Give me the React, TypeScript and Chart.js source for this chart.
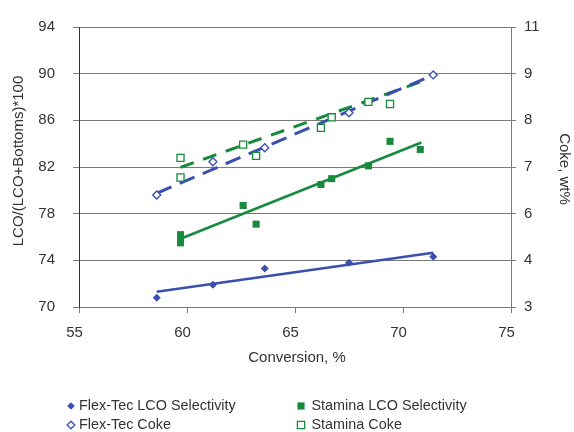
import React, { useEffect, useRef } from 'react';
import { Chart, registerables } from 'chart.js';

Chart.register(...registerables);

// ---------- data ----------
const flexConversion = [58.6, 61.2, 63.6, 67.5, 71.4];
const flexLcoSelectivity = [70.8, 71.9, 73.3, 73.8, 74.3];
const flexCoke = [6.2, 7.15, 7.55, 8.55, 9.63];

const staminaConversion = [59.7, 59.7, 59.7, 62.6, 63.2, 66.2, 66.7, 68.4, 69.4, 70.8];
const staminaLcoSelectivity = [76.2, 75.8, 75.5, 78.7, 77.1, 80.5, 81.0, 82.1, 84.2, 83.5];
const staminaCokeConversion = [59.7, 59.7, 62.6, 63.2, 66.2, 66.7, 68.4, 69.4];
const staminaCoke = [7.26, 6.7, 7.64, 7.32, 8.12, 8.42, 8.86, 8.8];

// trendline end points
const flexLcoTrendX = [58.6, 71.4];
const flexLcoTrendY = [71.3, 74.65];
const staminaLcoTrendX = [59.7, 70.85];
const staminaLcoTrendY = [75.85, 84.1];
const flexCokeTrendX = [58.6, 71.4];
const flexCokeTrendY = [6.25, 9.63];
const staminaCokeTrendX = [59.7, 70.9];
const staminaCokeTrendY = [6.99, 9.45];

const rightTickLabels = ['3', '4', '6', '7', '8', '9', '11'];

const seriesLabels = [
  'Flex-Tec LCO Selectivity',
  'Stamina LCO Selectivity',
  'Flex-Tec Coke',
  'Stamina Coke',
];

const xTitle = 'Conversion, %';
const yTitle = 'LCO/(LCO+Bottoms)*100';
const y2Title = 'Coke, wt%';

// ---------- styles ----------
const BLUE = '#3B4FB0';
const GREEN = '#178A3E';
const TEXT = '#333333';
const GRID = '#7a7a7a';
const FONT = "'Liberation Sans', Arial, sans-serif";

const pts = (xs: number[], ys: number[]) => xs.map((x, i) => ({ x, y: ys[i] }));

function drawMarker(ctx: CanvasRenderingContext2D, kind: string, x: number, y: number, color: string) {
  ctx.save();
  ctx.beginPath();
  if (kind === 'diamond' || kind === 'openDiamond') {
    const r = 3.8;
    ctx.moveTo(x - r, y);
    ctx.lineTo(x, y - r);
    ctx.lineTo(x + r, y);
    ctx.lineTo(x, y + r);
    ctx.closePath();
  } else {
    const h = 3.6;
    ctx.rect(x - h, y - h, 2 * h, 2 * h);
  }
  if (kind.startsWith('open')) {
    ctx.fillStyle = '#ffffff';
    ctx.fill();
    ctx.strokeStyle = color;
    ctx.lineWidth = 1.3;
    ctx.stroke();
  } else {
    ctx.fillStyle = color;
    ctx.fill();
  }
  ctx.restore();
}

const legendPlugin = {
  id: 'customLegend',
  afterDraw(chart: any) {
    const ctx: CanvasRenderingContext2D = chart.ctx;
    const colX = [71, 301];
    const rowY = [406, 425];
    ctx.save();
    ctx.font = `14.4px ${FONT}`;
    ctx.fillStyle = TEXT;
    ctx.textBaseline = 'middle';
    ctx.textAlign = 'left';
    chart.data.datasets.forEach((ds: any, i: number) => {
      if (ds.legendMarker === undefined) return;
      const cx = colX[i % 2];
      const cy = rowY[Math.floor(i / 2)];
      drawMarker(ctx, ds.legendMarker, cx, cy, ds.borderColor);
      ctx.fillStyle = TEXT;
      ctx.fillText(ds.label, cx + (i % 2 === 0 ? 8 : 10.5), cy + 0.5);
    });
    ctx.restore();
  },
};

const titlePlugin = {
  id: 'axisTitles',
  afterDraw(chart: any) {
    const ctx: CanvasRenderingContext2D = chart.ctx;
    const area = chart.chartArea;
    const midY = (area.top + area.bottom) / 2;
    ctx.save();
    ctx.font = `15px ${FONT}`;
    ctx.fillStyle = TEXT;
    ctx.textAlign = 'center';
    ctx.textBaseline = 'middle';
    ctx.fillText(xTitle, 297, 358);

    ctx.save();
    ctx.translate(18.5, midY - 6);
    ctx.rotate(-Math.PI / 2);
    ctx.fillText(yTitle, 0, 0);
    ctx.restore();

    ctx.save();
    ctx.translate(564, midY + 2);
    ctx.rotate(Math.PI / 2);
    ctx.fillText(y2Title, 0, 0);
    ctx.restore();
    ctx.restore();
  },
};

export default function App() {
  const canvasRef = useRef<HTMLCanvasElement | null>(null);

  useEffect(() => {
    if (!canvasRef.current) return;
    const chart = new Chart(canvasRef.current, {
      type: 'scatter',
      data: {
        datasets: [
          {
            label: seriesLabels[0],
            data: pts(flexConversion, flexLcoSelectivity),
            yAxisID: 'y',
            pointStyle: 'rectRot',
            pointRadius: 4,
            backgroundColor: BLUE,
            borderColor: BLUE,
            borderWidth: 0,
            showLine: false,
            legendMarker: 'diamond',
          } as any,
          {
            label: seriesLabels[1],
            data: pts(staminaConversion, staminaLcoSelectivity),
            yAxisID: 'y',
            pointStyle: 'rect',
            pointRadius: 5,
            backgroundColor: GREEN,
            borderColor: GREEN,
            borderWidth: 0,
            showLine: false,
            legendMarker: 'square',
          } as any,
          {
            label: seriesLabels[2],
            data: pts(flexConversion, flexCoke),
            yAxisID: 'y2',
            pointStyle: 'rectRot',
            pointRadius: 4,
            backgroundColor: '#ffffff',
            borderColor: BLUE,
            borderWidth: 1.3,
            showLine: false,
            legendMarker: 'openDiamond',
          } as any,
          {
            label: seriesLabels[3],
            data: pts(staminaCokeConversion, staminaCoke),
            yAxisID: 'y2',
            pointStyle: 'rect',
            pointRadius: 5,
            backgroundColor: '#ffffff',
            borderColor: GREEN,
            borderWidth: 1.3,
            showLine: false,
            legendMarker: 'openSquare',
          } as any,
          {
            label: 'flexLcoTrend',
            data: pts(flexLcoTrendX, flexLcoTrendY),
            yAxisID: 'y',
            showLine: true,
            pointRadius: 0,
            borderColor: BLUE,
            borderWidth: 2.5,
          } as any,
          {
            label: 'staminaLcoTrend',
            data: pts(staminaLcoTrendX, staminaLcoTrendY),
            yAxisID: 'y',
            showLine: true,
            pointRadius: 0,
            borderColor: GREEN,
            borderWidth: 2.5,
          } as any,
          {
            label: 'flexCokeTrend',
            data: pts(flexCokeTrendX, flexCokeTrendY),
            yAxisID: 'y2',
            showLine: true,
            pointRadius: 0,
            borderColor: BLUE,
            borderWidth: 3,
            borderDash: [16, 9],
          } as any,
          {
            label: 'staminaCokeTrend',
            data: pts(staminaCokeTrendX, staminaCokeTrendY),
            yAxisID: 'y2',
            showLine: true,
            pointRadius: 0,
            borderColor: GREEN,
            borderWidth: 3,
            borderDash: [14, 10],
          } as any,
        ],
      },
      options: {
        responsive: false,
        animation: false,
        layout: { padding: { top: 17, left: 0, right: 0, bottom: 0 } },
        plugins: {
          legend: { display: false },
          tooltip: { enabled: false },
        },
        scales: {
          x: {
            type: 'linear',
            min: 55,
            max: 75,
            afterFit: (s: any) => { s.height = 125; },
            ticks: {
              stepSize: 5,
              color: TEXT,
              font: { family: FONT, size: 15 },
              padding: 11,
              labelOffset: -4.5,
            },
            grid: { drawOnChartArea: false, drawTicks: true, tickLength: 6, color: GRID, lineWidth: 1 },
            border: { color: GRID, width: 1 },
          },
          y: {
            type: 'linear',
            position: 'left',
            min: 70,
            max: 94,
            afterFit: (s: any) => { s.width = 79; },
            ticks: {
              stepSize: 4,
              color: TEXT,
              font: { family: FONT, size: 15 },
              padding: 18,
            },
            grid: { color: GRID, lineWidth: 1, tickLength: 6 },
            border: { color: '#333333', width: 1 },
          },
          y2: {
            type: 'linear',
            position: 'right',
            min: 3,
            max: 11,
            afterFit: (s: any) => { s.width = 63; },
            afterBuildTicks: (s: any) => {
              const n = rightTickLabels.length - 1;
              s.ticks = rightTickLabels.map((_, i) => ({ value: s.min + (i * (s.max - s.min)) / n }));
            },
            ticks: {
              color: TEXT,
              font: { family: FONT, size: 15 },
              padding: 8,
              callback: (_v: any, i: number) => rightTickLabels[i],
            },
            grid: { drawOnChartArea: false, drawTicks: true, tickLength: 5, color: GRID, lineWidth: 1 },
            border: { color: GRID, width: 1 },
          },
        },
      } as any,
      plugins: [legendPlugin, titlePlugin],
    });
    return () => chart.destroy();
  }, []);

  return (
    <div style={{ position: 'absolute', left: 0, top: 0, width: 574, height: 432, background: '#ffffff' }}>
      <canvas ref={canvasRef} width={574} height={432} style={{ display: 'block', width: 574, height: 432 }} />
    </div>
  );
}
